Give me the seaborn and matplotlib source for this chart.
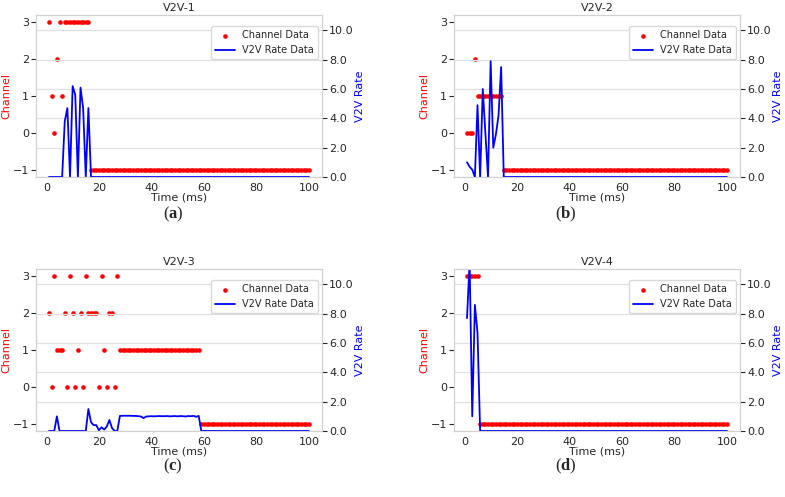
import numpy as np
from matplotlib import pyplot as plt
import seaborn as sns
import pandas as pd

# time axis (ms) shared by all four links
time_ms = list(range(1, 101))

# V2V-1
chan_1 = [3, 1, 0, 2, 3, 1] + [3] * 10 + [-1] * 84
rate_1 = [0, 0, 0, 0, 0, 0, 3.8, 4.7, 0, 6.2, 5.6, 0, 6.1, 4.7, 0, 4.7] + [0] * 84

# V2V-2
chan_2 = [0, 0, 0, 2] + [1] * 10 + [-1] * 86
rate_2 = [1.0, 0.7, 0.5, 0, 4.9, 0, 6.0, 3.0, 0, 7.9, 2.0, 2.9, 4.2, 7.5] + [0] * 86

# V2V-3
chan_3 = [2, 0, 3, 1, 1, 1, 2, 0, 3, 2, 0, 1, 2, 0, 3, 2, 2, 2, 2, 0, 3, 1, 0, 2, 2, 0, 3] \
    + [1] * 31 + [-1] * 42
rate_3 = [0, 0, 0, 1.0, 0, 0, 0, 0, 0, 0, 0, 0, 0, 0, 0,
          1.5, 0.6, 0.4, 0.4, 0.05, 0.25, 0.1, 0.3, 0.75, 0.2, 0, 0,
          1.03, 1.04, 1.04, 1.04, 1.04, 1.03, 1.03, 1.01, 0.99, 0.88,
          0.99, 1.00, 1.01, 1.00, 1.01, 1.02, 1.01, 1.01, 1.02, 1.00,
          1.01, 1.02, 1.00, 1.02, 1.01, 0.99, 1.02, 1.01, 1.03, 0.97, 1.03] + [0] * 42

# V2V-4
chan_4 = [3] * 5 + [-1] * 95
rate_4 = [7.7, 11.5, 1.0, 8.6, 6.7] + [0] * 95

titles = ["V2V-1", "V2V-2", "V2V-3", "V2V-4"]
captions = ["a", "b", "c", "d"]
channels = [chan_1, chan_2, chan_3, chan_4]
rates = [rate_1, rate_2, rate_3, rate_4]

sns.set_style("whitegrid")
plt.rcParams['font.family'] = ['DejaVu Sans']
plt.rcParams['mathtext.fontset'] = 'custom'
plt.rcParams['mathtext.bf'] = 'Liberation Serif:bold'
plt.rcParams['mathtext.rm'] = 'Liberation Serif'

W, H = 785, 497
fig = plt.figure(figsize=(W / 100, H / 100), dpi=100)

# axes boxes in pixels: left, top
boxes = [(36, 15), (454, 15), (36, 269), (454, 269)]
cap_pos = [(173, 214), (566, 214), (173, 466), (566, 466)]
aw, ah = 286, 162

for i in range(4):
    left, top = boxes[i]
    ax1 = fig.add_axes([left / W, 1 - (top + ah) / H, aw / W, ah / H])
    ax2 = ax1.twinx()

    sns.scatterplot(x=time_ms, y=channels[i], color='red', s=11, linewidth=0,
                    ax=ax1, label='Channel Data', legend=False, zorder=3)
    sns.lineplot(x=time_ms, y=rates[i], color='blue', linewidth=1.3, sort=False,
                 ax=ax2, label='V2V Rate Data', legend=False)

    ax1.set_xlim(-3.95, 104.95)
    ax1.set_ylim(-1.2, 3.2)
    ax1.set_xticks([0, 20, 40, 60, 80, 100])
    ax1.set_yticks([-1, 0, 1, 2, 3])
    ax1.grid(False)
    ax2.set_ylim(0, 11.05)
    ax2.set_yticks([0, 2, 4, 6, 8, 10])
    ax2.set_yticklabels(['%.1f' % v for v in [0, 2, 4, 6, 8, 10]])
    ax2.grid(True, axis='y', color='.88', linewidth=0.9)

    for ax in (ax1, ax2):
        ax.tick_params(labelsize=8, pad=1.5)
        for sp in ax.spines.values():
            sp.set_color('.82')
    ax1.tick_params(axis='x', pad=0.5)

    ax1.set_title(titles[i], fontsize=8, pad=3)
    ax1.set_xlabel('Time (ms)', fontsize=8, labelpad=0)
    ax1.set_ylabel('Channel', color='red', fontsize=8, labelpad=1)
    ax2.set_ylabel('V2V Rate', color='blue', fontsize=8, labelpad=1)

    h1, l1 = ax1.get_legend_handles_labels()
    h2, l2 = ax2.get_legend_handles_labels()
    ax2.legend(h1 + h2, l1 + l2, loc='upper right', bbox_to_anchor=(1, 0.955),
               fontsize=7, frameon=True, framealpha=1, edgecolor='.85',
               borderaxespad=0.4, handlelength=2.0, markerscale=1.0)

    cx, cy = cap_pos[i]
    fig.text(cx / W, 1 - cy / H, r'($\mathbf{%s}$)' % captions[i],
             family='Liberation Serif', fontsize=12, ha='center', va='center')

plt.savefig('out.png', dpi=100)
